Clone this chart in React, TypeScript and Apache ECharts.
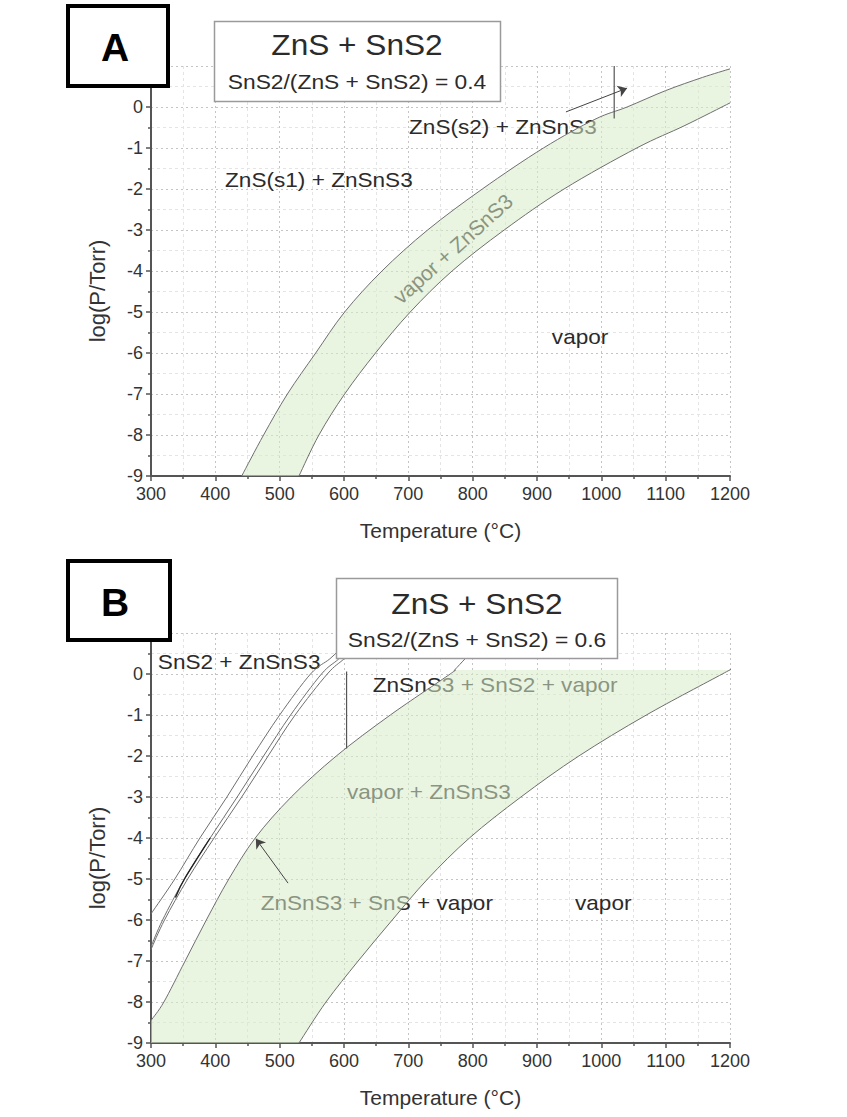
import React, { useEffect, useRef } from "react";
import * as echarts from "echarts";

// ---------- data (Temperature °C, log(P/Torr)) ----------
// Panel A
const aUpper = [[441, -9], [475, -8], [512, -7], [556, -6], [601, -5], [659, -4], [730, -3], [815, -2], [910, -1], [990, -0.3], [1040, 0], [1100, 0.4], [1157, 0.72], [1200, 0.93]];
const aLower = [[530, -9], [561, -8], [601, -7], [649, -6], [703, -5], [768, -4], [849, -3], [942, -2], [1055, -1], [1130, -0.45], [1200, 0.1]];
const aVertical = [[1020, 1], [1020, -0.28]];
const aArrow = [[945, -0.12], [1040, 0.46]];
const aLabelText = ["ZnS(s2) + ZnSnS3", "ZnS(s1) + ZnSnS3", "vapor", "vapor + ZnSnS3"];
const aLabelPos = [[847, -0.51], [561, -1.8], [967, -5.61], [769, -3.46]];
const aLabelRot = [0, 0, 0, 42];

// Panel B
const bUpper = [[300, -8.45], [320, -8], [353, -7], [386, -6], [421, -5], [462, -4], [518, -3], [588, -2], [672, -1], [765, 0], [772, 0.1], [790, 0.4], [815, 0.8], [830, 1]];
const bLower = [[530, -9], [572, -8], [622, -7], [675, -6], [730, -5], [795, -4], [875, -3], [965, -2], [1070, -1], [1188, 0], [1200, 0.1]];
const bFillTop = 0.1;
const bOuter = [[300, -5.85], [337, -5], [376, -4], [418, -3], [458, -2], [500, -1], [548, 0], [578, 0.37], [600, 0.7]];
const bInner1 = [[300, -6.65], [318, -6], [352, -5], [392, -4], [434, -3], [475, -2], [517, -1], [565, 0], [592, 0.37], [620, 0.8]];
const bInner2 = [[300, -6.72], [321, -6], [357, -5], [398, -4], [441, -3], [482, -2], [524, -1], [574, 0], [600, 0.37], [628, 0.8]];
const bDark = [[338, -5.45], [352, -5], [392, -4]];
const bVertical = [[604, 0.06], [604, -1.82]];
const bArrow = [[513, -5.1], [463, -4.02]];
const bLabelText = ["SnS2 + ZnSnS3", "ZnSnS3 + SnS2 + vapor", "vapor + ZnSnS3", "ZnSnS3 + SnS + vapor", "vapor"];
const bLabelPos = [[437, 0.27], [835, -0.27], [732, -2.9], [651, -5.59], [1003, -5.59]];

const titleMain = "ZnS + SnS2";
const ratioText = ["SnS2/(ZnS + SnS2) = 0.4", "SnS2/(ZnS + SnS2) = 0.6"];
const panelLetters = ["A", "B"];

// ---------- styles ----------
const FONT = "'Liberation Sans', Arial, Helvetica, sans-serif";
const FILL = "rgba(215,235,200,0.55)";
const CURVE = "#6f6f6f";
const TEXT = "#2b2b2b";

// Catmull-Rom smoothing of already-projected pixel points (rendering only)
function segs(pts: number[][]): string {
  let d = "";
  for (let i = 0; i < pts.length - 1; i++) {
    const p0 = pts[Math.max(i - 1, 0)];
    const p1 = pts[i];
    const p2 = pts[i + 1];
    const p3 = pts[Math.min(i + 2, pts.length - 1)];
    const c1x = p1[0] + (p2[0] - p0[0]) / 6;
    const c1y = p1[1] + (p2[1] - p0[1]) / 6;
    const c2x = p2[0] - (p3[0] - p1[0]) / 6;
    const c2y = p2[1] - (p3[1] - p1[1]) / 6;
    d += ` C${c1x},${c1y} ${c2x},${c2y} ${p2[0]},${p2[1]}`;
  }
  return d;
}
function openPath(pts: number[][]): string {
  return `M${pts[0][0]},${pts[0][1]}` + segs(pts);
}

export default function App() {
  const ref = useRef<HTMLDivElement>(null);

  useEffect(() => {
    const chart = echarts.init(ref.current as HTMLDivElement, null, { renderer: "svg" });

    const xAxisFor = (gi: number) => ({
      type: "value",
      gridIndex: gi,
      min: 300,
      max: 1200,
      interval: 100,
      name: "Temperature (°C)",
      nameLocation: "middle",
      nameGap: 44,
      nameTextStyle: { fontSize: 21, color: "#333", fontFamily: FONT },
      axisLine: { show: true, onZero: false, lineStyle: { color: "#555", width: 2 } },
      axisTick: { show: true, length: 5, lineStyle: { color: "#555", width: 1.5 } },
      minorTick: { show: true, splitNumber: 2, length: 3, lineStyle: { color: "#555", width: 1.5 } },
      axisLabel: { fontSize: 18, color: "#333", fontFamily: FONT, margin: 9, formatter: (v: number) => String(v) },
      splitLine: { show: true, lineStyle: { color: "#c4c4c4", type: [2, 3], width: 1 } },
      minorSplitLine: { show: true, lineStyle: { color: "#e4e4e4", type: [3, 3], width: 1 } },
    });
    const yAxisFor = (gi: number) => ({
      type: "value",
      gridIndex: gi,
      min: -9,
      max: 1,
      interval: 1,
      name: "log(P/Torr)",
      nameLocation: "middle",
      nameGap: 43,
      nameTextStyle: { fontSize: 22, color: "#333", fontFamily: FONT, padding: [0, 40, 0, 0] },
      axisLine: { show: true, onZero: false, lineStyle: { color: "#555", width: 2 } },
      axisTick: { show: true, length: 5, lineStyle: { color: "#555", width: 1.5 } },
      minorTick: { show: true, splitNumber: 2, length: 3, lineStyle: { color: "#555", width: 1.5 } },
      axisLabel: {
        fontSize: 18,
        color: "#333",
        fontFamily: FONT,
        margin: 8,
        formatter: (v: number) => (v > 0.5 ? "" : String(v)),
      },
      splitLine: { show: true, lineStyle: { color: "#c4c4c4", type: [2, 3], width: 1 } },
      minorSplitLine: { show: true, lineStyle: { color: "#e4e4e4", type: [3, 3], width: 1 } },
    });

    // fill region: upper boundary, lower boundary (left→right), plus joining/closing vertices
    const bandSeries = (
      gi: number,
      upper: number[][],
      lowerLR: number[][],
      joinTop: number[][],
      closeExtra: number[][],
      curves: { pts: number[][]; color: string; width: number }[]
    ) => ({
      type: "custom",
      xAxisIndex: gi,
      yAxisIndex: gi,
      z: 3,
      silent: true,
      data: [[300, -9]],
      renderItem: (_p: any, api: any) => {
        const U = upper.map((p) => api.coord(p));
        const Lrev = lowerLR.slice().reverse().map((p) => api.coord(p));
        const J = joinTop.map((p) => api.coord(p));
        const C = closeExtra.map((p) => api.coord(p));
        let d = openPath(U);
        J.forEach((p) => (d += ` L${p[0]},${p[1]}`));
        d += ` L${Lrev[0][0]},${Lrev[0][1]}` + segs(Lrev);
        C.forEach((p) => (d += ` L${p[0]},${p[1]}`));
        d += " Z";
        const children: any[] = [
          { type: "path", shape: { pathData: d }, style: { fill: FILL, stroke: null } },
        ];
        curves.forEach((c) => {
          const P = c.pts.map((p) => api.coord(p));
          children.push({
            type: "path",
            shape: { pathData: openPath(P) },
            style: { fill: null, stroke: c.color, lineWidth: c.width },
          });
        });
        return { type: "group", children };
      },
    });

    const straight = (gi: number, data: number[][], arrow: number[][]) => ({
      type: "line",
      xAxisIndex: gi,
      yAxisIndex: gi,
      data,
      z: 4,
      silent: true,
      showSymbol: false,
      symbol: "none",
      lineStyle: { color: "#555", width: 1.2 },
      markLine: {
        silent: true,
        symbol: ["none", "arrow"],
        symbolSize: 9,
        label: { show: false },
        lineStyle: { color: "#444", width: 1, type: "solid" },
        itemStyle: { color: "#111" },
        data: [[{ coord: arrow[0] }, { coord: arrow[1] }]],
      },
    });

    const bUpperFill = bUpper.filter((p) => p[1] <= bFillTop);

    chart.setOption({
      animation: false,
      backgroundColor: "#ffffff",
      grid: [
        { left: 151, top: 66, width: 579, height: 410 },
        { left: 151, top: 633, width: 579, height: 410 },
      ],
      xAxis: [xAxisFor(0), xAxisFor(1)],
      yAxis: [yAxisFor(0), yAxisFor(1)],
      series: [
        bandSeries(0, aUpper, aLower, [], [], [
          { pts: aUpper, color: CURVE, width: 1 },
          { pts: aLower, color: CURVE, width: 1 },
        ]),
        bandSeries(1, bUpperFill, bLower, [[1200, bFillTop]], [[300, -9]], [
          { pts: bUpper, color: CURVE, width: 1 },
          { pts: bLower, color: CURVE, width: 1 },
          { pts: bOuter, color: CURVE, width: 1 },
          { pts: bInner1, color: CURVE, width: 1 },
          { pts: bInner2, color: CURVE, width: 1 },
          { pts: bDark, color: "#222", width: 1.4 },
        ]),
        straight(0, aVertical, aArrow),
        straight(1, bVertical, bArrow),
      ],
    });

    const labelEls: any[] = [];
    const addLabels = (gi: number, texts: string[], pos: number[][], rot: number[] = []) => {
      texts.forEach((t, i) => {
        const px = chart.convertToPixel({ gridIndex: gi } as any, pos[i]) as number[];
        const r = rot[i] || 0;
        labelEls.push({
          type: "text",
          x: px[0],
          y: px[1],
          z: 1,
          rotation: (r * Math.PI) / 180,
          scaleX: r ? 1 : 1.13,
          silent: true,
          style: {
            text: t,
            fill: TEXT,
            font: `${r ? 21 : 20}px ${FONT}`,
            align: "center",
            verticalAlign: "middle",
          },
        });
      });
    };
    addLabels(0, aLabelText, aLabelPos, aLabelRot);
    addLabels(1, bLabelText, bLabelPos);

    const letterBox = (x: number, y: number, w: number, h: number, letter: string, tx: number, ty: number) => [
      {
        type: "rect",
        z: 100,
        silent: true,
        shape: { x, y, width: w, height: h },
        style: { fill: "#fff", stroke: "#000", lineWidth: 4 },
      },
      {
        type: "text",
        z: 101,
        x: tx,
        y: ty,
        silent: true,
        style: { text: letter, fill: "#000", font: `bold 39px ${FONT}`, align: "center", verticalAlign: "middle" },
      },
    ];
    const titleBox = (x: number, y: number, w: number, h: number, cx: number, y1: number, y2: number, sub: string) => [
      {
        type: "rect",
        z: 100,
        silent: true,
        shape: { x, y, width: w, height: h },
        style: { fill: "#fff", stroke: "#9a9a9a", lineWidth: 1.5 },
      },
      {
        type: "text",
        z: 101,
        x: cx,
        y: y1,
        scaleX: 1.09,
        silent: true,
        style: { text: titleMain, fill: TEXT, font: `29px ${FONT}`, align: "center", verticalAlign: "middle" },
      },
      {
        type: "text",
        z: 101,
        x: cx,
        y: y2,
        scaleX: 1.14,
        silent: true,
        style: { text: sub, fill: TEXT, font: `20px ${FONT}`, align: "center", verticalAlign: "middle" },
      },
    ];

    chart.setOption({
      graphic: [
        ...labelEls,
        ...letterBox(68, 6, 100, 80, panelLetters[0], 115, 47),
        ...letterBox(68, 561, 102, 79, panelLetters[1], 115, 602),
        ...titleBox(214.5, 21.5, 286, 80, 357, 45, 82, ratioText[0]),
        ...titleBox(336.5, 578.5, 281, 80, 477, 604, 640, ratioText[1]),
      ],
    });

    return () => chart.dispose();
  }, []);

  return (
    <div
      ref={ref}
      style={{ position: "absolute", left: 0, top: 0, width: 847, height: 1117, background: "#fff" }}
    />
  );
}
